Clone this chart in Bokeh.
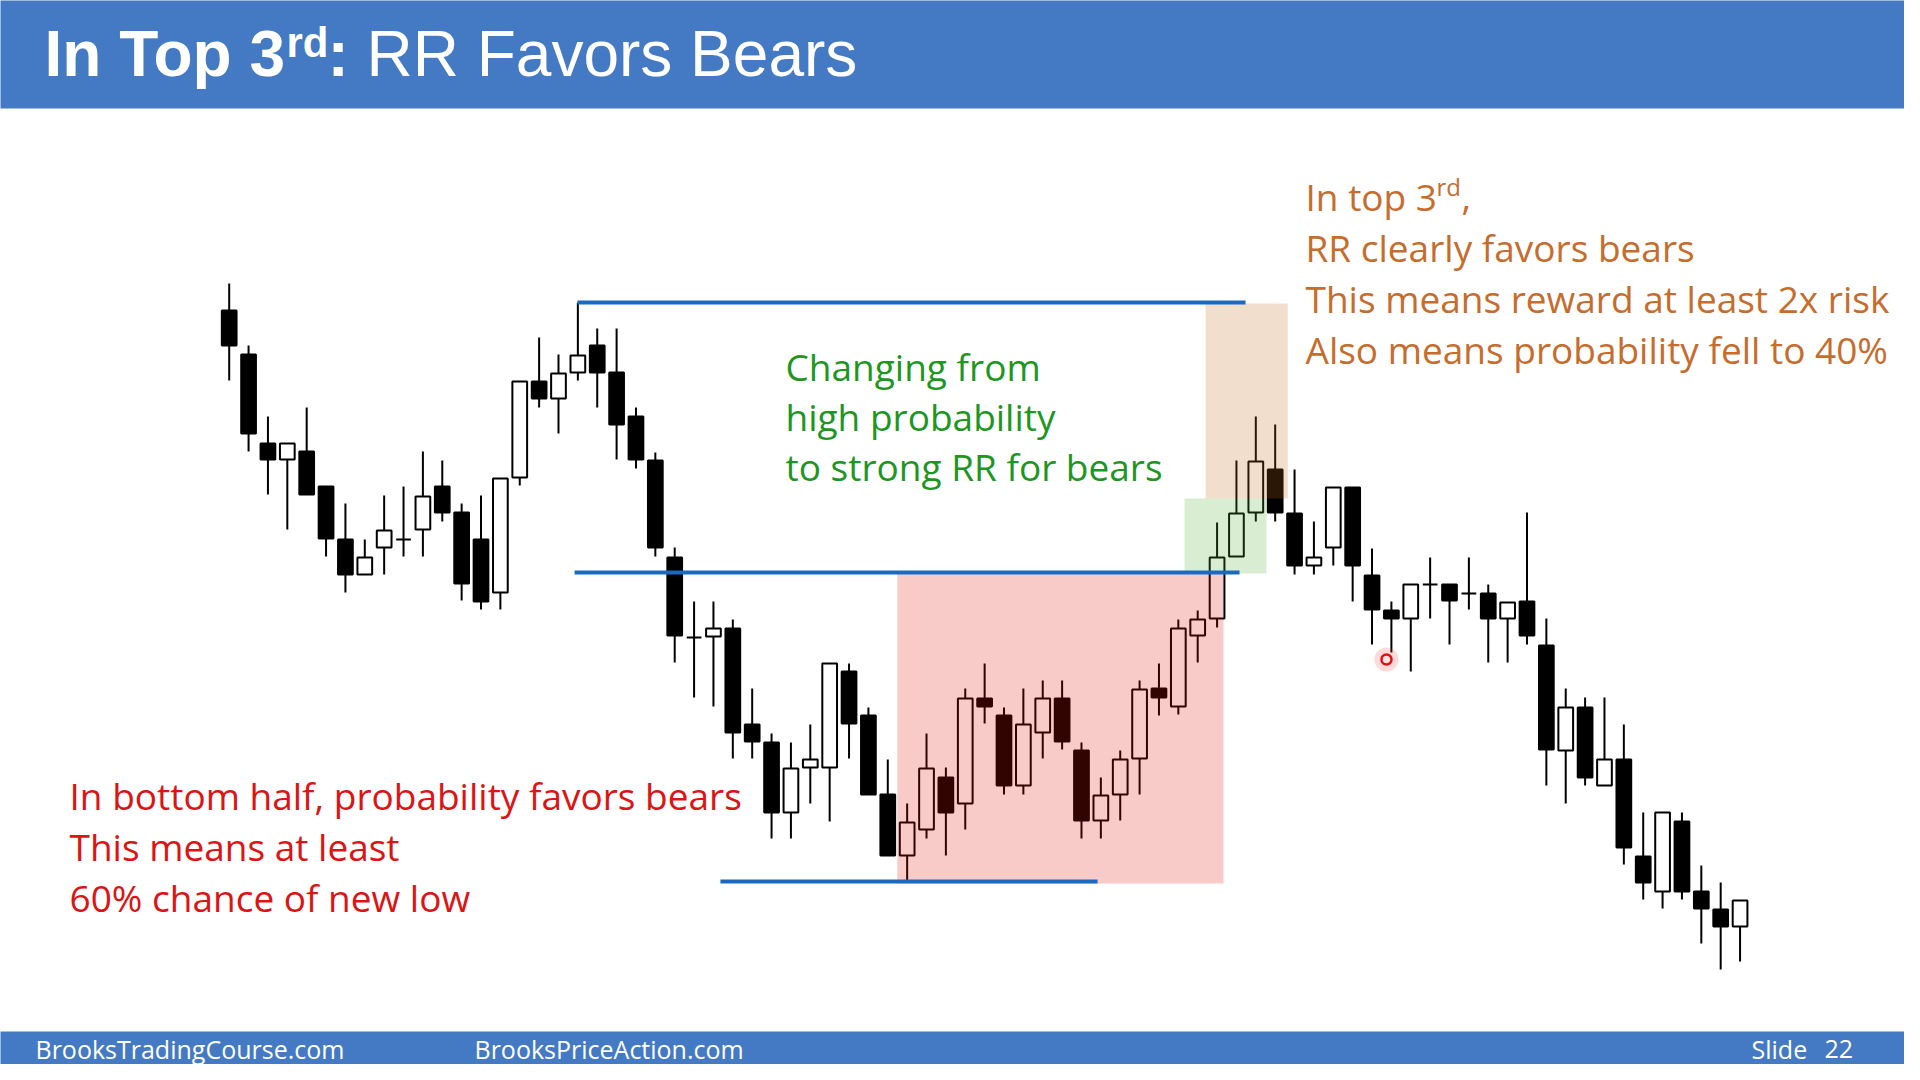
from bokeh.plotting import figure
from bokeh.models import Range1d, ColumnDataSource
from bokeh.core.properties import value
from bokeh.embed import file_html
from bokeh.resources import INLINE

# ---------------- data (price units, bar index 1..79) ----------------
bars = list(range(1, 80))
opens = [770, 726, 637, 621, 629, 594, 541, 506, 533, 541,
         551, 594, 568, 541, 488, 603, 699, 682, 708, 735,
         708, 664, 620, 523, 443, 444, 452, 356, 338, 268,
         313, 313, 409, 365, 286, 225, 251, 303, 277, 382,
         365, 295, 348, 382, 330, 260, 286, 322, 392, 374,
         445, 462, 524, 568, 611, 567, 515, 533, 593, 505,
         470, 462, 496, 496, 487, 487, 462, 479, 435, 330,
         373, 295, 321, 224, 189, 259, 189, 171, 154]
highs = [797, 735, 664, 637, 673, 594, 577, 541, 585, 594,
         629, 620, 577, 585, 602, 699, 743, 726, 778, 752,
         752, 673, 628, 533, 479, 479, 461, 392, 347, 338,
         356, 417, 417, 373, 321, 277, 347, 313, 392, 417,
         373, 392, 400, 400, 338, 303, 330, 400, 417, 461,
         470, 558, 620, 664, 656, 611, 559, 593, 593, 532,
         479, 496, 523, 496, 523, 496, 478, 568, 462, 392,
         383, 383, 356, 268, 268, 268, 215, 198, 180]
lows = [700, 629, 586, 551, 586, 524, 488, 506, 506, 524,
        524, 559, 480, 471, 471, 595, 673, 647, 700, 673,
        621, 612, 524, 418, 383, 374, 322, 322, 242, 242,
        277, 259, 322, 286, 225, 200, 242, 225, 251, 357,
        286, 286, 322, 331, 242, 242, 260, 286, 365, 366,
        418, 453, 524, 559, 559, 506, 506, 515, 479, 436,
        428, 409, 462, 436, 471, 418, 418, 436, 295, 277,
        295, 295, 216, 181, 172, 181, 137, 111, 119]
closes = [735, 647, 621, 637, 586, 542, 506, 523, 550, 541,
          584, 568, 497, 479, 602, 699, 682, 707, 725, 708,
          656, 621, 533, 445, 443, 452, 348, 339, 268, 312,
          321, 417, 357, 286, 225, 258, 312, 268, 382, 374,
          295, 356, 382, 339, 260, 285, 321, 391, 383, 452,
          461, 523, 567, 619, 568, 515, 523, 593, 515, 471,
          462, 496, 496, 480, 487, 462, 478, 445, 331, 373,
          303, 321, 233, 198, 268, 189, 172, 154, 180]

# horizontal levels (price) and their bar-index extents
level_prices = [778, 508, 199]
level_start = [18.98, 18.83, 26.36]
level_end = [53.47, 53.16, 45.83]

# shaded zones: bar-index extents and price extents
zone_left = [35.49, 50.32, 51.41]
zone_right = [52.33, 54.55, 55.65]
zone_low = [197, 507, 582]
zone_high = [507, 582, 777]

green_lines = ["Changing from", "high probability", "to strong RR for bears"]
red_lines = ["In bottom half, probability favors bears", "This means at least",
             "60% chance of new low"]
orange_lines = ["RR clearly favors bears", "This means reward at least 2x risk",
                "Also means probability fell to 40%"]

# ---------------- layout helpers (slide pixel -> data) ----------------
X0, DX = 228.7, 19.37


def sx(X):
    return 1 + (X - X0) / DX


def sy(Y):
    return 1080 - Y


W, H = 1904, 1064
p = figure(width=W, height=H, output_backend="svg", toolbar_location=None,
           x_range=Range1d(sx(0), sx(W)), y_range=Range1d(sy(H), sy(0)),
           x_axis_type=None, y_axis_type=None, min_border=0)
p.grid.visible = False
p.outline_line_color = None
p.background_fill_color = "white"
p.border_fill_color = "white"

BLUE_BAND = "#4479c3"
# header and footer bands
p.quad(left=[sx(-50)], right=[sx(2000)], bottom=[sy(108)], top=[sy(-50)],
       fill_color=BLUE_BAND, line_color=None)
p.quad(left=[sx(-50)], right=[sx(2000)], bottom=[sy(1130)], top=[sy(1031)],
       fill_color=BLUE_BAND, line_color=None)

# candles
up = [c >= o for o, c in zip(opens, closes)]
src = ColumnDataSource(dict(
    x=bars, high=highs, low=lows,
    top=[max(o, c) for o, c in zip(opens, closes)],
    bottom=[min(o, c) for o, c in zip(opens, closes)],
    fill=["white" if u else "black" for u in up],
))
p.segment(x0="x", y0="high", x1="x", y1="low", source=src,
          line_color="black", line_width=2)
p.vbar(x="x", width=0.76, top="top", bottom="bottom", source=src,
       fill_color="fill", line_color="black", line_width=2)

# translucent zones over the candles
zone_colors = ["#df0e05", "#4caf32", "#c3691b"]
p.quad(left=zone_left, right=zone_right, bottom=zone_low, top=zone_high,
       fill_color=zone_colors, fill_alpha=0.22, line_color=None)

# blue levels
p.segment(x0=level_start, y0=level_prices, x1=level_end, y1=level_prices,
          line_color="#1b6ac0", line_width=4)

# cursor dot
p.scatter(x=[sx(1386)], y=[sy(659)], size=24, fill_color="#ff3030",
          fill_alpha=0.18, line_color=None)
p.scatter(x=[sx(1386)], y=[sy(659)], size=10, fill_color="#ffe6e6",
          line_color="#e01010", line_width=2.5)


def put(X, Y, txt, size, color, font="Open Sans", style="normal"):
    p.text(x=[sx(X)], y=[sy(Y)], text=[txt], text_font=value(font),
           text_font_size=f"{size}px", text_font_style=style,
           text_color=color, text_baseline="alphabetic", text_align="left")


# title
put(44, 53, "In Top 3", 64, "white", "Liberation Sans", "bold")
put(286, 42, "rd", 42, "white", "Liberation Sans", "bold")
put(327, 53, ":", 64, "white", "Liberation Sans", "bold")
put(366, 53, "RR Favors Bears", 64, "white", "Liberation Sans")

FS = 37
# green annotation
for k, t in enumerate(green_lines):
    put(785, 366 + 50 * k, t, FS, "#1e9622")

# red annotation
for k, t in enumerate(red_lines):
    put(69, 795 + 51 * k, t, FS, "#dc1414")

# orange annotation
ORANGE = "#c66d2d"
put(1305, 196, "In top 3", FS, ORANGE)
put(1436, 186, "rd", 24, ORANGE)
put(1461, 196, ",", FS, ORANGE)
for k, t in enumerate(orange_lines):
    put(1305, 247 + 51 * k, t, FS, ORANGE)

# footer
put(35, 1048, "BrooksTradingCourse.com", 25, "white")
put(474, 1048, "BrooksPriceAction.com", 25, "white")
put(1751, 1048, "Slide", 25, "white")
put(1824, 1048, "22", 25, "white")

open("out.html", "w").write(file_html(p, INLINE))
